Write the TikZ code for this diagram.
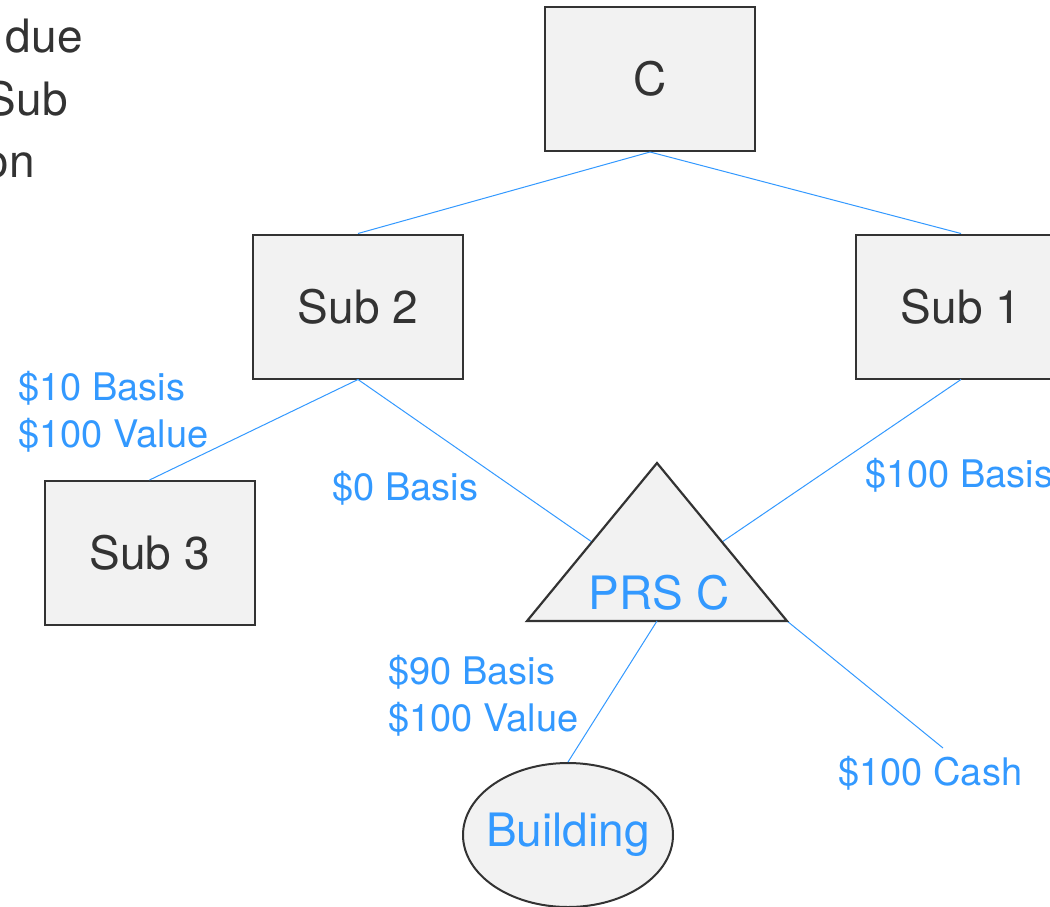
\documentclass[tikz,border=0pt]{standalone}
\usepackage{fontspec}
\setmainfont{TeX Gyre Heros}
\usetikzlibrary{shapes.geometric}
\definecolor{linkblue}{HTML}{3399FF}
\definecolor{inkgray}{HTML}{333333}
\definecolor{boxfill}{HTML}{F2F2F2}
\begin{document}
\begin{tikzpicture}[x=0.5pt, y=-0.5pt,
  box/.style={draw=inkgray, line width=1pt, fill=boxfill, text=inkgray, font=\fontsize{23}{28}\selectfont, minimum width=105pt, minimum height=72pt, inner sep=0pt},
  asset/.style={ellipse, draw=inkgray, line width=1pt, fill=boxfill, text=linkblue, font=\fontsize{23}{28}\selectfont, minimum width=105pt, minimum height=72pt, inner xsep=-4.5pt, inner ysep=0pt},
  tri/.style={draw=inkgray, line width=1.1pt, fill=boxfill, line join=miter},
  lbl/.style={text=linkblue, font=\fontsize{19}{23.5}\selectfont, align=left, inner sep=0pt},
  note/.style={text=inkgray, font=\fontsize{23}{31}\selectfont, inner sep=0pt},
  link/.style={draw=linkblue, line width=0.5pt}
]
\useasboundingbox[fill=white] (0,0) rectangle (1050,906);

\node[note, anchor=base east] (frag1) at (83,52) {due};
\node[note, anchor=base east] (frag2) at (68,115) {Sub};
\node[note, anchor=base east] (frag3) at (35,177) {on};

\node[box] (top) at (650,79) {C};
\node[box] (sub2) at (358,306.5) {Sub 2};
\node[box] (sub1) at (961,306.5) {Sub 1};
\node[box] (sub3) at (149.5,553) {Sub 3};

\coordinate (prsTop) at (657,463);
\coordinate (prsLeft) at (527,621);
\coordinate (prsRight) at (787,621);
\coordinate (prsBase) at (657,621);
\coordinate (prsInL) at (592,542);
\coordinate (prsInR) at (722,542);
\coordinate (cashEnd) at (943,748);

\draw[link] (top.south) -- (sub2.north);
\draw[link] (top.south) -- (sub1.north);
\draw[link] (sub2.south) -- (sub3.north);
\draw[link] (sub2.south) -- (prsInL);
\draw[link] (sub1.south) -- (prsInR);
\draw[link] (prsRight) -- (cashEnd);

\draw[tri] (prsTop) -- (prsRight) -- (prsLeft) -- cycle;
\node[text=linkblue, font=\fontsize{23}{28}\selectfont, inner sep=0pt] (prs) at (659,593) {PRS C};

\node[asset] (bldg) at (568,835) {Building};
\draw[link] (prsBase) -- (bldg.north);

\node[lbl, anchor=west] (sub3note) at (18,412) {\$10 Basis\\\$100 Value};
\node[lbl, anchor=west] (prsnote) at (332,488) {\$0 Basis};
\node[lbl, anchor=west] (sub1note) at (865,475) {\$100 Basis};
\node[lbl, anchor=west] (bldgnote) at (388,696) {\$90 Basis\\\$100 Value};
\node[lbl, anchor=west] (cashnote) at (838,773) {\$100 Cash};
\end{tikzpicture}
\end{document}
